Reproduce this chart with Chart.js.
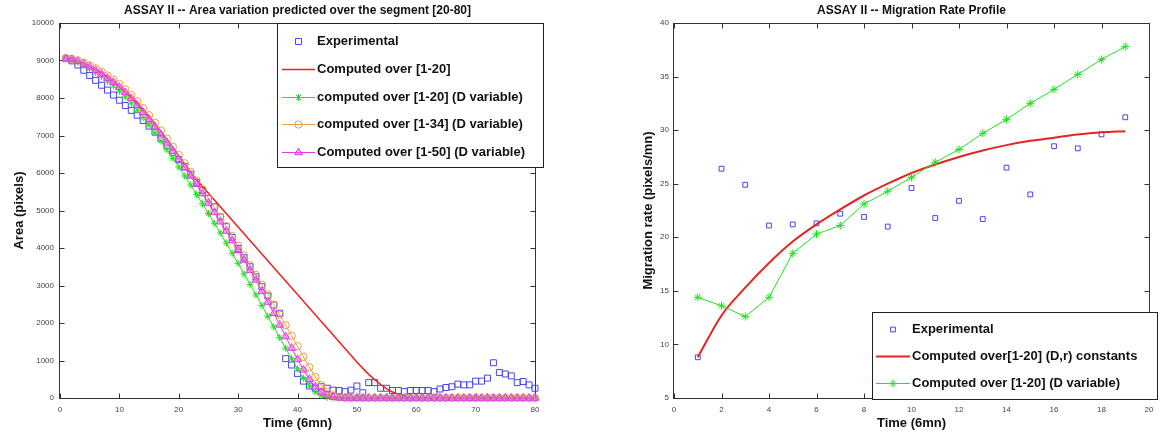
<!DOCTYPE html>
<html>
<head>
<meta charset="utf-8">
<title>ASSAY II</title>
<script src="https://cdn.jsdelivr.net/npm/chart.js@4.4.0/dist/chart.umd.min.js"></script>
<style>
    html, body { margin: 0; padding: 0; background: #fff; width: 1165px; height: 437px; overflow: hidden; }
    canvas { position: absolute; top: 0; }
    #areaChart { left: 0; }
    #rateChart { left: 590px; }
</style>
</head>
<body>
<canvas id="areaChart" width="580" height="437"></canvas>
<canvas id="rateChart" width="575" height="437"></canvas>
<script>
// ---- Left panel: area over time (1 step = 6 mn) ----
const areaTime = [1, 2, 3, 4, 5, 6, 7, 8, 9, 10, 11, 12, 13, 14, 15, 16, 17, 18, 19, 20,
    21, 22, 23, 24, 25, 26, 27, 28, 29, 30, 31, 32, 33, 34, 35, 36, 37, 38, 39, 40,
    41, 42, 43, 44, 45, 46, 47, 48, 49, 50, 51, 52, 53, 54, 55, 56, 57, 58, 59, 60,
    61, 62, 63, 64, 65, 66, 67, 68, 69, 70, 71, 72, 73, 74, 75, 76, 77, 78, 79, 80];

const areaExperimental = [9050, 8990, 8880, 8740, 8600, 8470, 8340, 8210, 8080, 7940,
    7800, 7670, 7540, 7400, 7250, 7090, 6920, 6740, 6550, 6360,
    6170, 5970, 5750, 5530, 5320, 5100, 4830, 4570, 4280, 3990,
    3740, 3500, 3230, 2970, 2720, 2480, 2260, 1050, 880, 650,
    450, 320, 260, 300, 260, 210, 200, 170, 210, 320,
    140, 410, 410, 260, 260, 200, 200, 170, 200, 200,
    200, 200, 170, 240, 280, 300, 370, 350, 350, 450,
    450, 530, 940, 680, 640, 590, 410, 440, 350, 260];

const areaFit20 = [9050, 9030, 8990, 8930, 8850, 8760, 8660, 8550, 8430, 8300,
    8160, 8010, 7850, 7680, 7500, 7310, 7110, 6900, 6680, 6460,
    6240, 6020, 5820, 5640, 5460, 5280, 5100, 4920, 4740, 4560,
    4380, 4200, 4020, 3840, 3660, 3480, 3300, 3120, 2940, 2760,
    2580, 2400, 2220, 2040, 1860, 1680, 1500, 1320, 1140, 960,
    790, 630, 490, 360, 250, 160, 90, 40, 10, 0,
    0, 0, 0, 0, 0, 0, 0, 0, 0, 0,
    0, 0, 0, 0, 0, 0, 0, 0, 0, 0];

const areaVar20 = [9050, 9010, 8950, 8870, 8780, 8680, 8570, 8450, 8320, 8180,
    8030, 7860, 7680, 7480, 7280, 7070, 6850, 6620, 6390, 6160,
    5920, 5680, 5430, 5180, 4920, 4660, 4400, 4130, 3860, 3590,
    3310, 3030, 2750, 2470, 2180, 1900, 1610, 1330, 1050, 780,
    530, 320, 160, 60, 15, 0, 0, 0, 0, 0,
    0, 0, 0, 0, 0, 0, 0, 0, 0, 0,
    0, 0, 0, 0, 0, 0, 0, 0, 0, 0,
    0, 0, 0, 0, 0, 0, 0, 0, 0, 0];

const areaVar34 = [9060, 9040, 9000, 8940, 8870, 8790, 8700, 8600, 8490, 8370,
    8230, 8080, 7910, 7730, 7540, 7340, 7130, 6920, 6700, 6480,
    6260, 6030, 5800, 5560, 5320, 5080, 4830, 4580, 4320, 4060,
    3800, 3540, 3280, 3020, 2760, 2490, 2220, 1940, 1660, 1380,
    1100, 820, 560, 340, 170, 70, 20, 5, 0, 0,
    0, 0, 0, 0, 0, 0, 0, 0, 0, 0,
    0, 0, 0, 0, 0, 0, 0, 0, 0, 0,
    0, 0, 0, 0, 0, 0, 0, 0, 0, 0];

const areaVar50 = [9050, 9030, 8980, 8910, 8830, 8740, 8640, 8530, 8420, 8290,
    8150, 7990, 7810, 7620, 7430, 7230, 7020, 6800, 6580, 6360,
    6140, 5920, 5700, 5450, 5200, 4950, 4700, 4450, 4200, 3940,
    3680, 3410, 3150, 2850, 2560, 2260, 1950, 1640, 1330, 1030,
    750, 500, 300, 160, 70, 25, 5, 0, 0, 0,
    0, 0, 0, 0, 0, 0, 0, 0, 0, 0,
    0, 0, 0, 0, 0, 0, 0, 0, 0, 0,
    0, 0, 0, 0, 0, 0, 0, 0, 0, 0];

// ---- Right panel: migration rate ----
const rateTime = [1, 2, 3, 4, 5, 6, 7, 8, 9, 10, 11, 12, 13, 14, 15, 16, 17, 18, 19];
const rateExperimental = [8.8, 26.4, 24.9, 21.1, 21.2, 21.3, 22.2, 21.9, 21.0, 24.6,
    21.8, 23.4, 21.7, 26.5, 24.0, 28.5, 28.3, 29.6, 31.2];
const rateConstant = [8.8, 12.7, 15.3, 17.6, 19.6, 21.2, 22.6, 23.9, 25.0, 26.0,
    26.8, 27.5, 28.1, 28.6, 29.0, 29.3, 29.6, 29.8, 29.9];
const rateVariable = [14.4, 13.6, 12.6, 14.4, 18.5, 20.3, 21.1, 23.1, 24.3, 25.6,
    27.0, 28.2, 29.7, 31.0, 32.5, 33.8, 35.2, 36.6, 37.8];

const BLUE = '#4646e8';
const RED = '#e82222';
const GREEN = '#22e022';
const ORANGE = '#e8a044';
const MAGENTA = '#e03ce0';
const FONT = '"Liberation Sans", Arial, Helvetica, sans-serif';

Chart.defaults.font.family = FONT;
Chart.defaults.color = '#444';

function pairs(xs, ys) {
    return xs.map((x, i) => ({ x: x, y: ys[i] }));
}

// small marker painter, used for the legend samples
function drawMarker(ctx, style, x, y, r, stroke, fill) {
    ctx.save();
    ctx.strokeStyle = stroke;
    ctx.lineWidth = 1;
    ctx.beginPath();
    if (style === 'rect') {
        const s = r * Math.SQRT1_2;
        ctx.rect(x - s, y - s, 2 * s, 2 * s);
    } else if (style === 'circle') {
        ctx.arc(x, y, r, 0, Math.PI * 2);
    } else if (style === 'triangle') {
        ctx.moveTo(x, y - r);
        ctx.lineTo(x - r * 0.866, y + r * 0.5);
        ctx.lineTo(x + r * 0.866, y + r * 0.5);
        ctx.closePath();
    } else if (style === 'star') {
        ctx.moveTo(x - r, y); ctx.lineTo(x + r, y);
        ctx.moveTo(x, y - r); ctx.lineTo(x, y + r);
        const d = r * Math.SQRT1_2;
        ctx.moveTo(x - d, y - d); ctx.lineTo(x + d, y + d);
        ctx.moveTo(x - d, y + d); ctx.lineTo(x + d, y - d);
    }
    if (fill && fill !== 'transparent' && style !== 'star') {
        ctx.fillStyle = fill;
        ctx.fill();
    }
    ctx.stroke();
    ctx.restore();
}

// MATLAB-like box: frame, inward ticks on all four sides, title
const matlabFrame = {
    id: 'matlabFrame',
    beforeDatasetsDraw(chart, args, opts) {
        const { ctx, chartArea: a, scales: { x, y } } = chart;
        const L = Math.floor(a.left) - 0.5, R = Math.round(a.right) + 0.5;
        const T = Math.round(a.top) + 0.5, B = Math.round(a.bottom) + 0.5;
        ctx.save();
        ctx.strokeStyle = '#333';
        ctx.lineWidth = 1;
        ctx.strokeRect(L, T, R - L, B - T);
        ctx.beginPath();
        x.ticks.forEach(t => {
            const px = Math.round(x.getPixelForValue(t.value)) + 0.5;
            ctx.moveTo(px, B); ctx.lineTo(px, B - 5);
            ctx.moveTo(px, T); ctx.lineTo(px, T + 5);
        });
        y.ticks.forEach(t => {
            const py = Math.round(y.getPixelForValue(t.value)) + 0.5;
            ctx.moveTo(L, py); ctx.lineTo(L + 5, py);
            ctx.moveTo(R, py); ctx.lineTo(R - 5, py);
        });
        ctx.stroke();

        ctx.fillStyle = '#111';
        ctx.font = 'bold 12px ' + FONT;
        ctx.textAlign = 'center';
        ctx.textBaseline = 'middle';
        ctx.fillText(opts.title, (a.left + a.right) / 2, opts.titleY);
        ctx.restore();
    }
};

// boxed legend drawn at a fixed spot
const boxLegend = {
    id: 'boxLegend',
    afterDraw(chart, args, opts) {
        const ctx = chart.ctx;
        ctx.save();
        ctx.fillStyle = '#fff';
        ctx.fillRect(opts.left, opts.top, opts.width, opts.height);
        ctx.strokeStyle = '#222';
        ctx.lineWidth = 1;
        ctx.strokeRect(opts.left + 0.5, opts.top + 0.5, opts.width, opts.height);
        ctx.font = 'bold 13px ' + FONT;
        ctx.textBaseline = 'middle';
        chart.data.datasets.forEach((ds, i) => {
            const y = Math.round(opts.top + opts.firstRow + i * opts.rowGap) + 0.5;
            const mid = (opts.lineFrom + opts.lineTo) / 2;
            if (ds.showLine !== false) {
                ctx.strokeStyle = ds.borderColor;
                ctx.lineWidth = ds.borderWidth;
                ctx.beginPath();
                ctx.moveTo(opts.lineFrom, y);
                ctx.lineTo(opts.lineTo, y);
                ctx.stroke();
            }
            if (ds.pointRadius > 0) {
                drawMarker(ctx, ds.pointStyle, mid, y, ds.pointRadius, ds.borderColor, ds.pointBackgroundColor);
            }
            ctx.fillStyle = '#111';
            ctx.fillText(ds.label, opts.textX, y);
        });
        ctx.restore();
    }
};

function axisTitle(text, padding) {
    return { display: true, text: text, color: '#111', font: { size: 13, weight: 'bold' }, padding: padding };
}

// ---- Left chart ----
new Chart(document.getElementById('areaChart'), {
    type: 'line',
    data: {
        datasets: [
            {
                label: 'Experimental', data: pairs(areaTime, areaExperimental), showLine: false,
                pointStyle: 'rect', pointRadius: 4.2, pointBorderWidth: 1,
                borderColor: BLUE, pointBackgroundColor: 'transparent', order: 5, clip: false
            },
            {
                label: 'Computed over [1-20]', data: pairs(areaTime, areaFit20),
                borderColor: RED, borderWidth: 1.5, pointRadius: 0, order: 4, clip: false
            },
            {
                label: 'computed over [1-20] (D variable)', data: pairs(areaTime, areaVar20),
                borderColor: GREEN, borderWidth: 1, pointStyle: 'star', pointRadius: 3.5,
                pointBorderWidth: 1, pointBackgroundColor: 'transparent', order: 3, clip: false
            },
            {
                label: 'computed over [1-34] (D variable)', data: pairs(areaTime, areaVar34),
                borderColor: ORANGE, borderWidth: 1, pointStyle: 'circle', pointRadius: 3.7,
                pointBorderWidth: 1, pointBackgroundColor: 'transparent', order: 2, clip: false
            },
            {
                label: 'Computed over [1-50] (D variable)', data: pairs(areaTime, areaVar50),
                borderColor: MAGENTA, borderWidth: 1, pointStyle: 'triangle', pointRadius: 4.5,
                pointBorderWidth: 1, pointBackgroundColor: 'rgba(240,100,240,0.55)', order: 1, clip: false
            }
        ]
    },
    options: {
        responsive: false,
        animation: false,
        events: [],
        layout: { padding: { top: 23, left: 0, right: 45, bottom: 0 } },
        scales: {
            x: {
                type: 'linear', min: 0, max: 80,
                grid: { display: false, drawTicks: false }, border: { display: false },
                ticks: { stepSize: 10, padding: 7, font: { size: 8 }, maxRotation: 0, autoSkip: false },
                title: axisTitle('Time (6mn)', { top: 0, bottom: 6 }),
                afterFit(s) { s.height = 39; }
            },
            y: {
                min: 0, max: 10000,
                grid: { display: false, drawTicks: false }, border: { display: false },
                ticks: { stepSize: 1000, padding: 6, font: { size: 8 }, callback: v => String(v) },
                title: axisTitle('Area (pixels)', { top: 12, bottom: 0 }),
                afterFit(s) { s.width = 60; }
            }
        },
        plugins: {
            legend: { display: false },
            tooltip: { enabled: false },
            matlabFrame: { title: 'ASSAY II -- Area variation predicted over the segment [20-80]', titleY: 11 },
            boxLegend: {
                left: 277, top: 23, width: 266, height: 144,
                firstRow: 18, rowGap: 27.8, lineFrom: 282, lineTo: 315, textX: 317
            }
        }
    },
    plugins: [matlabFrame, boxLegend]
});

// ---- Right chart ----
new Chart(document.getElementById('rateChart'), {
    type: 'line',
    data: {
        datasets: [
            {
                label: 'Experimental', data: pairs(rateTime, rateExperimental), showLine: false,
                pointStyle: 'rect', pointRadius: 3.4, pointBorderWidth: 1,
                borderColor: BLUE, pointBackgroundColor: 'transparent', order: 3, clip: false
            },
            {
                label: 'Computed over[1-20] (D,r) constants', data: pairs(rateTime, rateConstant),
                borderColor: RED, borderWidth: 2, pointRadius: 0, cubicInterpolationMode: 'monotone', order: 2
            },
            {
                label: 'Computed over [1-20] (D variable)', data: pairs(rateTime, rateVariable),
                borderColor: GREEN, borderWidth: 1, pointStyle: 'star', pointRadius: 4,
                pointBorderWidth: 1, pointBackgroundColor: 'transparent', order: 1
            }
        ]
    },
    options: {
        responsive: false,
        animation: false,
        events: [],
        layout: { padding: { top: 23, left: 0, right: 16, bottom: 0 } },
        scales: {
            x: {
                type: 'linear', min: 0, max: 20,
                grid: { display: false, drawTicks: false }, border: { display: false },
                ticks: { stepSize: 2, padding: 7, font: { size: 8 }, maxRotation: 0, autoSkip: false },
                title: axisTitle('Time (6mn)', { top: 0, bottom: 6 }),
                afterFit(s) { s.height = 39; }
            },
            y: {
                min: 5, max: 40,
                grid: { display: false, drawTicks: false }, border: { display: false },
                ticks: { stepSize: 5, padding: 5, font: { size: 8 } },
                title: axisTitle('Migration rate (pixels/mn)', { top: 51, bottom: 0 }),
                afterFit(s) { s.width = 84; }
            }
        },
        plugins: {
            legend: { display: false },
            tooltip: { enabled: false },
            matlabFrame: { title: 'ASSAY II -- Migration Rate Profile', titleY: 11 },
            boxLegend: {
                left: 282, top: 312, width: 285, height: 87,
                firstRow: 16.5, rowGap: 27.2, lineFrom: 286, lineTo: 320, textX: 322
            }
        }
    },
    plugins: [matlabFrame, boxLegend]
});
</script>
</body>
</html>
